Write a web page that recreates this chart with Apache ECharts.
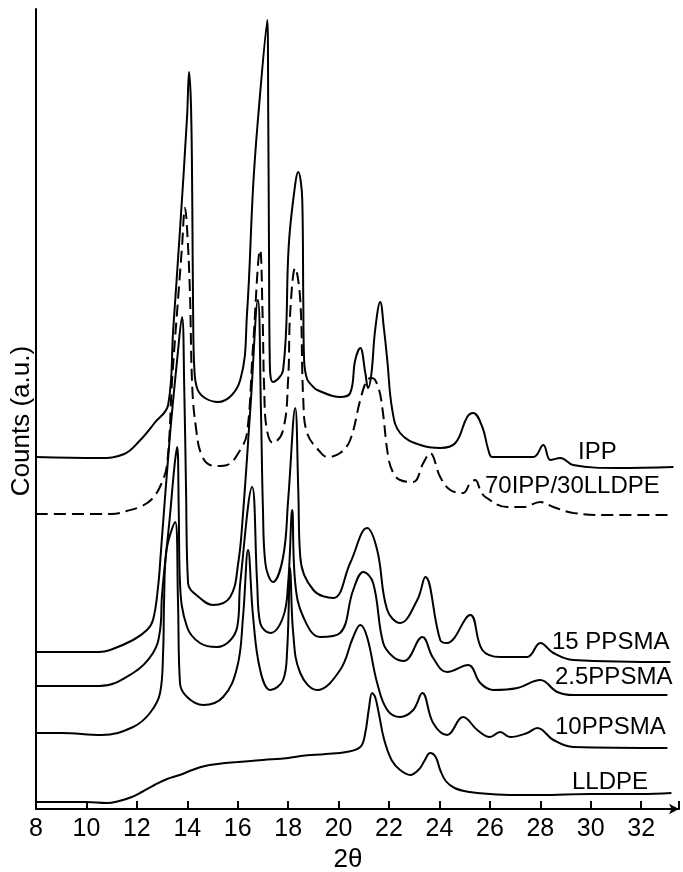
<!DOCTYPE html>
<html>
<head>
<meta charset="utf-8">
<script src="https://cdn.jsdelivr.net/npm/echarts@6/dist/echarts.min.js"></script>
<style>
html,body{margin:0;padding:0;background:#fff;}
#chart{width:683px;height:872px;}
</style>
</head>
<body>
<div id="chart"></div>
<script>
// 2-theta tick labels
const xTicks = [8, 10, 12, 14, 16, 18, 20, 22, 24, 26, 28, 30, 32];

// Each series: [2theta, counts (a.u., stacked offset included)]
const ipp = [[8,352],[10.5,351],[11.5,355],[12.1,368],[12.7,386],[13.24,404],[13.44,479],[13.71,579],[13.99,692],[14.07,737],[14.15,700],[14.2,600],[14.23,500],[14.28,440],[14.4,420],[14.7,411],[15.22,407],[16.1,429],[16.37,496],[16.61,622],[16.81,692],[17.17,789],[17.21,692],[17.24,560],[17.27,450],[17.4,427],[17.8,439],[18.02,562],[18.2,609],[18.4,637],[18.56,609],[18.6,509],[18.63,450],[18.75,430],[19.0,422],[19.15,419],[20.06,412],[20.46,416],[20.66,449],[20.86,461],[21.06,436],[21.17,421],[21.3,435],[21.45,479],[21.65,507],[21.8,480],[21.93,449],[22.13,399],[22.44,376],[23.24,364],[24.03,361],[24.63,366],[25.1,392],[25.34,396],[25.7,382],[25.94,359],[26.1,352],[27.72,352],[28.12,364],[28.4,349],[28.8,351],[29.3,344],[31.06,341],[33.28,342]];

const blend70_30 = [[8,295],[11,295],[11.6,298],[12.2,303],[12.6,310],[12.95,324],[13.2,345],[13.4,430],[13.64,512],[13.79,562],[13.91,601],[13.98,585],[14.1,520],[14.2,420],[14.35,380],[14.55,355],[14.9,344],[15.2,343],[15.58,344],[16.1,359],[16.37,376],[16.6,460],[16.89,559],[16.98,500],[17.05,420],[17.15,380],[17.4,366],[17.8,379],[18.0,430],[18.08,496],[18.28,541],[18.48,509],[18.6,409],[18.75,376],[19.27,357],[19.55,352],[20.06,356],[20.46,369],[20.86,409],[21.13,429],[21.33,431],[21.57,422],[21.73,402],[21.97,352],[22.17,336],[22.44,329],[22.96,327],[23.36,346],[23.63,356],[24.03,332],[24.43,319],[24.94,316],[25.22,326],[25.42,329],[25.62,319],[25.82,312],[26.69,302],[27.33,302],[28.0,307],[28.52,302],[29.31,296],[30.66,294],[33.28,294]];

const ppsma15 = [[8,157],[10.5,157],[10.94,159],[11.85,169],[12.4,179],[12.64,189],[12.84,222],[12.95,256],[13.3,370],[13.6,450],[13.79,492],[13.88,420],[13.95,320],[14.03,226],[14.5,211],[15.02,204],[15.7,212],[16.02,246],[16.2,292],[16.5,400],[16.8,509],[16.92,400],[17.0,300],[17.1,245],[17.4,227],[17.8,252],[18.0,309],[18.28,401],[18.4,320],[18.48,252],[19.0,219],[19.79,211],[20.46,246],[21.13,281],[21.53,259],[21.93,199],[22.44,186],[23.12,209],[23.44,232],[24.03,169],[24.3,166],[25.22,194],[25.7,159],[26.41,152],[27.48,152],[28.0,166],[28.52,156],[29.31,149],[33.16,147]];

const ppsma25 = [[8,123],[10.5,123],[11.85,136],[12.64,156],[12.92,179],[13.0,215],[13.3,290],[13.5,345],[13.6,362],[13.66,300],[13.71,226],[13.99,182],[14.5,166],[15.18,162],[15.98,182],[16.1,226],[16.57,322],[16.77,226],[16.89,186],[17.29,176],[17.8,192],[18.0,226],[18.16,299],[18.28,226],[18.6,192],[19.27,172],[20.06,176],[20.58,219],[20.98,237],[21.37,226],[21.77,166],[22.17,152],[22.6,148],[23.32,172],[23.75,151],[24.3,137],[25.14,144],[25.62,126],[26.13,119],[27.09,121],[28.0,129],[28.67,117],[29.31,114],[33.04,114]];

const ppsma10 = [[8,76],[9,76],[10.6,74],[11.85,82],[12.52,96],[12.92,116],[13.04,156],[13.08,209],[13.16,256],[13.52,287],[13.63,209],[13.71,126],[13.99,112],[14.63,104],[15.42,112],[15.98,142],[16.21,192],[16.41,259],[16.61,192],[16.89,139],[17.29,119],[17.8,129],[17.96,159],[18.08,241],[18.2,176],[18.48,136],[19.15,119],[20.06,139],[20.58,172],[20.86,184],[21.13,172],[21.53,126],[21.93,99],[22.44,92],[22.96,99],[23.32,116],[23.75,86],[24.3,74],[24.94,92],[25.5,79],[26.0,72],[26.41,77],[26.8,72],[27.48,76],[27.88,81],[28.52,69],[29.31,62],[33.04,61]];

const lldpe = [[8,7],[9,7],[10,7],[10.8,6],[11.3,8],[11.8,12],[12.2,17],[12.7,24],[13.2,30],[13.7,34],[14.2,39],[14.7,43],[15.2,45],[16,47],[17,49],[18,51],[18.5,53],[19.5,55],[20.3,57],[20.86,62],[21.05,75],[21.2,100],[21.33,116],[21.45,112],[21.6,95],[21.8,70],[22.1,49],[22.44,39],[22.84,34],[23.2,40],[23.4,48],[23.63,56],[23.85,52],[24.03,39],[24.25,28],[24.6,21],[25.2,17],[26,15],[27,14],[28,14],[30,15],[32,15],[33.2,16]];

const seriesNames = ['IPP', '70IPP/30LLDPE', '15 PPSMA', '2.5PPSMA', '10PPSMA', 'LLDPE'];
const seriesData = [ipp, blend70_30, ppsma15, ppsma25, ppsma10, lldpe];

const chart = echarts.init(document.getElementById('chart'), null, {renderer: 'canvas'});

const series = seriesData.map((d, i) => ({
  name: seriesNames[i],
  type: 'line',
  data: d,
  symbol: 'none',
  smooth: 0.4,
  silent: true,
  lineStyle: {
    color: '#000',
    width: 2,
    type: i === 1 ? [12, 6] : 'solid'
  }
}));

const labelFont = '24px "Liberation Sans", Arial, sans-serif';
function lbl(text, x, y) {
  return {type: 'text', left: x, top: y, style: {text: text, font: labelFont, fill: '#000'}};
}

chart.setOption({
  animation: false,
  backgroundColor: '#fff',
  grid: {left: 36, right: 4, top: 9, bottom: 63},
  xAxis: {
    type: 'value',
    min: 8,
    max: 33.5,
    interval: 2,
    axisLine: {show: true, lineStyle: {color: '#000', width: 2}, symbol: ['none', 'arrow'], symbolSize: [8, 10]},
    axisTick: {show: true, inside: true, length: 8, lineStyle: {color: '#000', width: 2}},
    axisLabel: {
      color: '#000',
      margin: 8,
      fontFamily: '"Liberation Sans Narrow", "Liberation Sans", sans-serif',
      fontSize: 25,
      formatter: function (v) { return xTicks.indexOf(v) >= 0 ? String(v) : ''; }
    },
    splitLine: {show: false}
  },
  yAxis: {
    type: 'value',
    min: 0,
    max: 800,
    axisLine: {show: true, lineStyle: {color: '#000', width: 2}},
    axisTick: {show: false},
    axisLabel: {show: false},
    splitLine: {show: false}
  },
  graphic: [
    {type: 'text', x: 22, y: 421, rotation: Math.PI / 2,
     style: {text: 'Counts (a.u.)', font: '26px "Liberation Sans", Arial, sans-serif', fill: '#000', align: 'center', verticalAlign: 'middle'}},
    {type: 'text', x: 348, y: 860,
     style: {text: '2θ', font: '26px "Liberation Sans", Arial, sans-serif', fill: '#000', align: 'center', verticalAlign: 'middle'}},
    lbl('IPP', 578, 440),
    lbl('70IPP/30LLDPE', 485, 474),
    lbl('15 PPSMA', 552, 630),
    lbl('2.5PPSMA', 555, 665),
    lbl('10PPSMA', 555, 715),
    lbl('LLDPE', 572, 770)
  ],
  series: series
});
</script>
</body>
</html>
